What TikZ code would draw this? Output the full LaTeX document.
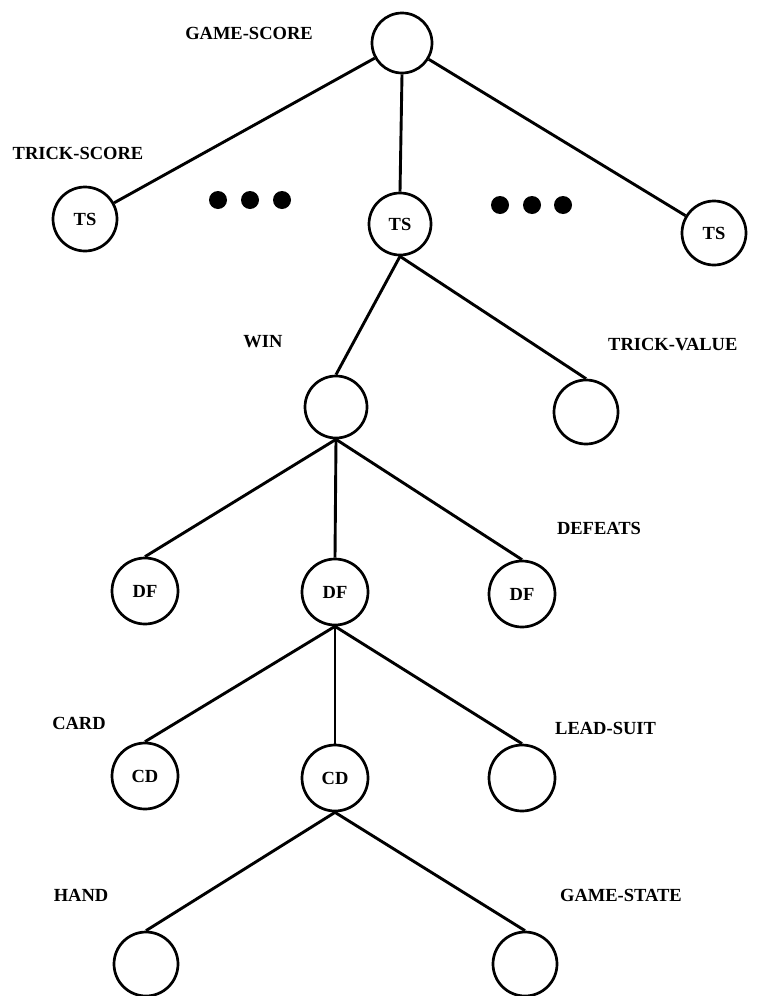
\documentclass[tikz,border=0pt]{standalone}
\usepackage{fontspec}
\setmainfont{Liberation Serif}
\begin{document}
\begin{tikzpicture}[x=1pt,y=-1pt,
  nd/.style={circle,draw,line width=2.7pt,inner sep=0pt,minimum size=64pt,font=\bfseries\fontsize{18.5}{22}\selectfont},
  lbl/.style={inner sep=0pt,font=\bfseries\fontsize{18.5}{22}\selectfont},
  edge/.style={line width=2.9pt},
  dot/.style={circle,fill,inner sep=0pt,minimum size=18pt}]
\useasboundingbox (0,0) rectangle (759,996);
% nodes
\node[nd,minimum size=60pt] (top) at (402,43) {};
\node[nd] (ts1) at (85,219) {TS};
\node[nd,minimum size=62pt] (ts2) at (400,224) {TS};
\node[nd] (ts3) at (714,233) {TS};
\node[nd,minimum size=62pt] (win) at (336,407) {};
\node[nd] (tv) at (586,412) {};
\node[nd,minimum size=66pt] (df1) at (145,591) {DF};
\node[nd,minimum size=66pt] (df2) at (335,592) {DF};
\node[nd,minimum size=66pt] (df3) at (522,594) {DF};
\node[nd,minimum size=66pt] (cd1) at (145,776) {CD};
\node[nd,minimum size=66pt] (cd2) at (335,778) {CD};
\node[nd,minimum size=66pt] (cd3) at (522,778) {};
\node[nd] (b1) at (146,964) {};
\node[nd] (b2) at (525,964) {};
% dots
\node[dot] (d1) at (218,200) {};
\node[dot] (d2) at (250,200) {};
\node[dot] (d3) at (282,200) {};
\node[dot] (d4) at (500,205) {};
\node[dot] (d5) at (532,205) {};
\node[dot] (d6) at (563,205) {};
% labels
\node[lbl] (lgs) at (249,33) {GAME-SCORE};
\node[lbl] (lts) at (78,153) {TRICK-SCORE};
\node[lbl] (lwin) at (263,342) {WIN};
\node[lbl,anchor=west] (ltv) at (608,345) {TRICK-VALUE};
\node[lbl] (ldef) at (599,528) {DEFEATS};
\node[lbl] (lcard) at (79,723) {CARD};
\node[lbl,anchor=west] (lls) at (555,728) {LEAD-SUIT};
\node[lbl] (lhand) at (81,895) {HAND};
\node[lbl] (lgst) at (621,895) {GAME-STATE};
% edges
\draw[edge] (top) -- (ts1);
\draw[edge] (top.south) -- (ts2.north);
\draw[edge] (top) -- (ts3);
\draw[edge] (ts2.south) -- (win.north);
\draw[edge] (ts2.south) -- (tv.north);
\draw[edge] (win.south) -- (df1.north);
\draw[edge] (win.south) -- (df2.north);
\draw[edge] (win.south) -- (df3.north);
\draw[edge] (df2.south) -- (cd1.north);
\draw[edge] (df2.south) -- (cd2.north);
\draw[edge] (df2.south) -- (cd3.north);
\draw[edge] (cd2.south) -- (b1.north);
\draw[edge] (cd2.south) -- (b2.north);
\end{tikzpicture}
\end{document}
